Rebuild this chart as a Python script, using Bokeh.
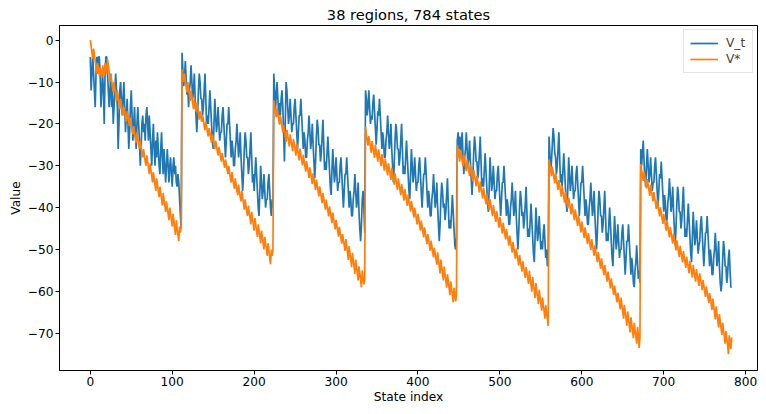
from bokeh.plotting import figure
from bokeh.models import Range1d, FixedTicker, Legend, LegendItem
from bokeh.embed import file_html
from bokeh.resources import INLINE

# ---------------- data ----------------
title_text = "38 regions, 784 states"
x_label_text = "State index"
y_label_text = "Value"
x_ticks = [0, 100, 200, 300, 400, 500, 600, 700, 800]
y_ticks = [-70, -60, -50, -40, -30, -20, -10, 0]

v_t_seg1 = [-4, -12, -8, -4, -8, -12, -16, -8, -4, -8, -4, -4, -8, -16, -12, -8,
            -12, -20, -8, -4, -4, -8, -12, -16, -12, -8, -16, -12, -20, -16, -12, -8,
            -12, -16, -26, -20, -12, -10, -14, -18, -14, -10, -16, -22, -18, -14, -20, -26,
            -22, -16, -12, -18, -24, -20, -16, -22, -26, -20, -16, -20, -24, -30, -26, -20,
            -18, -22, -20, -24, -18, -16, -20, -24, -18, -22, -26, -30, -24, -20, -26, -30,
            -24, -28, -22, -26, -30, -32, -26, -22, -28, -32, -26, -30, -34, -30, -26, -30,
            -34, -30, -28, -32, -35, -30, -28, -32, -30, -34, -35, -32, -34, -38, -42, -45]
v_t_seg2 = [-3, -7, -11, -9, -5, -9, -13, -11, -16, -12, -10, -6, -10, -14, -12, -8,
            -14, -18, -22, -18, -12, -8, -10, -14, -14, -18, -16, -12, -8, -14, -20, -18,
            -20, -16, -12, -16, -20, -24, -26, -20, -14, -18, -22, -20, -16, -20, -24, -22,
            -22, -18, -16, -20, -24, -28, -24, -20, -20, -16, -20, -24, -28, -24, -26, -30,
            -30, -26, -24, -20, -24, -28, -26, -22, -28, -32, -36, -32, -26, -22, -24, -28,
            -28, -32, -30, -26, -22, -28, -34, -32, -36, -32, -28, -32, -36, -40, -42, -36,
            -30, -34, -38, -36, -32, -36, -40, -38, -38, -34, -32, -36, -40, -42, -38, -40]
v_t_seg3 = [-8, -12, -17, -13, -10, -14, -18, -15, -18, -14, -12, -16, -22, -29, -20, -10,
            -12, -16, -20, -18, -14, -18, -22, -20, -20, -16, -14, -18, -22, -26, -22, -18,
            -18, -14, -18, -22, -26, -22, -24, -28, -28, -24, -22, -18, -22, -26, -24, -20,
            -25, -29, -33, -29, -23, -19, -21, -25, -25, -29, -27, -23, -19, -25, -31, -29,
            -31, -27, -23, -27, -31, -35, -37, -31, -26, -30, -34, -32, -28, -32, -36, -34,
            -34, -30, -28, -32, -36, -40, -36, -32, -32, -28, -32, -36, -40, -36, -38, -42,
            -42, -38, -36, -32, -36, -40, -38, -34, -41, -45, -48, -44, -38, -36, -40, -46]
v_t_seg4 = [-12, -14, -18, -16, -12, -16, -20, -18, -19, -15, -13, -17, -21, -25, -21, -17,
            -18, -14, -18, -22, -26, -22, -24, -28, -28, -24, -22, -18, -22, -26, -24, -20,
            -26, -30, -34, -30, -24, -20, -22, -26, -26, -30, -28, -24, -20, -26, -32, -30,
            -32, -28, -24, -28, -32, -36, -38, -32, -26, -30, -34, -32, -28, -32, -36, -34,
            -34, -30, -28, -32, -36, -40, -36, -32, -32, -28, -32, -36, -40, -36, -38, -42,
            -42, -38, -36, -32, -36, -40, -38, -34, -40, -44, -48, -44, -38, -34, -36, -40,
            -39, -43, -41, -37, -33, -39, -45, -43, -45, -41, -37, -41, -45, -49, -50, -47]
v_t_seg5 = [-24, -22, -26, -23, -28, -24, -22, -28, -32, -28, -26, -22, -26, -30, -28, -24,
            -29, -33, -37, -33, -27, -23, -25, -29, -29, -33, -31, -27, -23, -29, -35, -33,
            -35, -31, -27, -31, -35, -39, -41, -35, -28, -32, -36, -34, -30, -34, -38, -36,
            -36, -32, -30, -34, -38, -42, -38, -34, -34, -30, -34, -38, -42, -38, -40, -44,
            -44, -40, -38, -34, -38, -42, -40, -36, -42, -46, -50, -46, -40, -36, -38, -42,
            -41, -45, -43, -39, -35, -41, -47, -45, -47, -43, -39, -43, -47, -51, -53, -47,
            -40, -44, -48, -46, -42, -46, -50, -48, -50, -46, -44, -48, -52, -50, -54, -53]
v_t_seg6 = [-23, -27, -31, -29, -25, -21, -23, -27, -28, -32, -30, -26, -22, -28, -34, -32,
            -35, -31, -27, -31, -35, -39, -41, -35, -28, -32, -36, -34, -30, -34, -38, -36,
            -36, -32, -30, -34, -38, -42, -38, -34, -34, -30, -34, -38, -42, -38, -40, -44,
            -44, -40, -38, -34, -38, -42, -40, -36, -42, -46, -50, -46, -40, -36, -38, -42,
            -42, -46, -44, -40, -36, -42, -48, -46, -48, -44, -40, -44, -48, -52, -54, -48,
            -42, -46, -50, -48, -44, -48, -52, -50, -50, -46, -44, -48, -52, -56, -52, -48,
            -48, -44, -48, -52, -56, -52, -54, -58, -59, -55, -53, -49, -53, -57, -55, -58]
v_t_seg7 = [-26, -30, -27, -24, -29, -33, -35, -30, -26, -30, -34, -32, -28, -32, -36, -34,
            -34, -30, -28, -32, -36, -40, -36, -32, -33, -29, -33, -37, -41, -37, -39, -43,
            -43, -39, -37, -33, -37, -41, -39, -35, -41, -45, -49, -45, -39, -35, -37, -41,
            -41, -45, -43, -39, -35, -41, -47, -45, -47, -43, -39, -43, -47, -51, -53, -47,
            -41, -45, -49, -47, -43, -47, -51, -49, -48, -44, -42, -46, -50, -54, -50, -46,
            -46, -42, -46, -50, -54, -50, -52, -56, -56, -52, -50, -46, -50, -54, -52, -48,
            -54, -58, -60, -58, -52, -48, -50, -54, -54, -58, -56, -52, -50, -55, -59, -59]

v_star_seg1 = [0, -1.5, -3, -4.5, -2, -3.5, -5, -6.5, -8, -5.5, -7, -8.5,
               -6.5, -8, -9, -6, -7, -8.5, -5.5, -6.5, -8, -4.5, -6, -7.5,
               -10, -8, -9.5, -11, -12.5, -10, -11.5, -13, -14.5, -12, -13.5, -15,
               -16.5, -14, -15.5, -17, -18, -16, -17, -18.5, -19.5, -17, -18, -19.5,
               -20.5, -18.5, -20, -21.5, -22.5, -20.5, -22, -23.5, -24.5, -22, -23.5, -25,
               -26, -24, -25.5, -27, -28, -26, -27.5, -29, -30, -27.5, -29, -30.5,
               -32, -29.5, -31, -32.5, -34, -31.5, -33, -34.5, -36, -33, -34.5, -36,
               -37.5, -35, -36.5, -38, -39.5, -36.5, -38, -39.5, -41, -38.5, -40, -41.5,
               -43, -40, -41.5, -43, -44.5, -41.5, -43, -45, -46.5, -43, -45, -46.5,
               -48, -44.5, -46, -44.5]
v_star_seg2 = [-7, -8.5, -10, -8, -9.5, -11, -12.5, -10, -11.5, -13, -14.5, -12,
               -13.5, -15, -16.5, -14, -15.5, -17, -15, -16, -17.5, -19, -17, -18,
               -19.5, -18, -19, -20.5, -21.5, -19.5, -20.5, -22, -23, -21, -22, -23.5,
               -24.5, -22.5, -23.5, -25, -26, -24, -25, -26.5, -27.5, -25.5, -26.5, -28,
               -29, -27, -28, -29.5, -30.5, -28.5, -29.5, -31, -32, -30, -31.5, -33,
               -34, -31.5, -33, -34.5, -35.5, -33, -34.5, -36, -37, -34.5, -36, -37.5,
               -38.5, -36, -37.5, -39, -40.5, -38, -39.5, -41, -42, -39.5, -41, -42.5,
               -44, -41, -42.5, -44, -45.5, -42.5, -44, -45.5, -47, -44, -45.5, -47,
               -48.5, -45.5, -47, -48.5, -50, -47, -48.5, -50, -51.5, -48.5, -50, -52,
               -53.5, -50, -51.5, -50]
v_star_seg3 = [-14.4, -15.7, -17.1, -18.4, -16.2, -17.5, -18.9, -20.2, -18, -19.3, -20.7, -22,
               -20.3, -21.6, -23, -24.3, -21.4, -22.7, -24.1, -25.4, -22.5, -23.8, -25.2, -26.5,
               -23.6, -24.9, -26.3, -27.6, -24.7, -26, -27.4, -28.7, -25.9, -27.2, -28.6, -29.9,
               -27.4, -28.7, -30.1, -31.4, -28.9, -30.2, -31.6, -32.9, -30.4, -31.7, -33.1, -34.4,
               -31.8, -33.1, -34.5, -35.8, -33.3, -34.6, -36, -37.3, -34.9, -36.2, -37.6, -38.9,
               -36.5, -37.8, -39.2, -40.5, -38.1, -39.4, -40.8, -42.1, -39.7, -41, -42.4, -43.7,
               -41.2, -42.5, -43.9, -45.2, -42.9, -44.2, -45.6, -46.9, -44.6, -45.9, -47.3, -48.6,
               -46.3, -47.6, -49, -50.3, -47.5, -49.2, -50.8, -52.5, -49.2, -50.9, -52.5, -54.2,
               -50.8, -52.5, -54.1, -55.8, -52.4, -54.1, -55.7, -57.4, -54, -55.7, -57.3, -59,
               -55, -56.7, -58.3, -57]
v_star_seg4 = [-20.7, -22.5, -23.9, -25.2, -22.9, -24.2, -25.6, -26.9, -24.1, -25.4, -26.8, -28.1,
               -25, -26.3, -27.7, -29, -26.1, -27.4, -28.8, -30.1, -27.2, -28.5, -29.9, -31.2,
               -28.3, -29.6, -31, -32.3, -29.4, -30.7, -32.1, -33.4, -30.5, -31.8, -33.2, -34.5,
               -31.8, -33.1, -34.5, -35.8, -33, -34.3, -35.7, -37, -34.3, -35.6, -37, -38.3,
               -35.6, -36.9, -38.3, -39.6, -36.9, -38.2, -39.6, -40.9, -38.4, -39.7, -41.1, -42.4,
               -40, -41.3, -42.7, -44, -41.5, -42.8, -44.2, -45.5, -43.1, -44.4, -45.8, -47.1,
               -44.7, -46, -47.4, -48.7, -46.3, -47.6, -49, -50.3, -47.9, -49.2, -50.6, -51.9,
               -49.6, -50.9, -52.3, -53.6, -50.7, -52.4, -54, -55.7, -52.4, -54.1, -55.7, -57.4,
               -54.1, -55.8, -57.4, -59.1, -55.9, -57.6, -59.2, -60.9, -57.6, -59.3, -60.9, -62.6,
               -59.1, -60.8, -62.4, -61]
v_star_seg5 = [-25, -26.3, -27.7, -29, -26.2, -27.5, -28.9, -30.2, -27.3, -28.6, -30, -31.3,
               -28.5, -29.8, -31.2, -32.5, -29.7, -31, -32.4, -33.7, -30.9, -32.2, -33.6, -34.9,
               -32.4, -33.7, -35.1, -36.4, -33.8, -35.1, -36.5, -37.8, -35.2, -36.5, -37.9, -39.2,
               -36.6, -37.9, -39.3, -40.6, -38, -39.3, -40.7, -42, -39.4, -40.7, -42.1, -43.4,
               -40.8, -42.1, -43.5, -44.8, -42.2, -43.5, -44.9, -46.2, -43.6, -44.9, -46.3, -47.6,
               -45.1, -46.4, -47.8, -49.1, -46.7, -48, -49.4, -50.7, -48.2, -49.5, -50.9, -52.2,
               -49.8, -51.1, -52.5, -53.8, -51.3, -52.6, -54, -55.3, -52.8, -54.1, -55.5, -56.8,
               -54.2, -55.5, -56.9, -58.2, -55.1, -56.8, -58.4, -60.1, -56.6, -58.3, -59.9, -61.6,
               -58, -59.7, -61.3, -63, -59.6, -61.3, -62.9, -64.6, -61.5, -63.2, -64.8, -66.5,
               -63.3, -65, -66.6, -68.3]
v_star_seg6 = [-28.5, -29.8, -31.2, -32.5, -30.2, -31.5, -32.9, -34.2, -31.8, -33.1, -34.5, -35.8,
               -33.4, -34.7, -36.1, -37.4, -34.8, -36.1, -37.5, -38.8, -36.2, -37.5, -38.9, -40.2,
               -37.6, -38.9, -40.3, -41.6, -39, -40.3, -41.7, -43, -40.4, -41.7, -43.1, -44.4,
               -41.9, -43.2, -44.6, -45.9, -43.3, -44.6, -46, -47.3, -44.7, -46, -47.4, -48.7,
               -46.1, -47.4, -48.8, -50.1, -47.5, -48.8, -50.2, -51.5, -49, -50.3, -51.7, -53,
               -50.6, -51.9, -53.3, -54.6, -52.1, -53.4, -54.8, -56.1, -53.7, -55, -56.4, -57.7,
               -55.3, -56.6, -58, -59.3, -56.9, -58.2, -59.6, -60.9, -58.6, -59.9, -61.3, -62.6,
               -60.3, -61.6, -63, -64.3, -61.5, -63.2, -64.8, -66.5, -63.2, -64.9, -66.5, -68.2,
               -64.8, -66.5, -68.1, -69.8, -66.2, -67.9, -69.5, -71.2, -67.5, -69.2, -70.8, -72.5,
               -68.5, -70.2, -73.5, -71]
v_star_seg7 = [-29.6, -30.9, -32.3, -33.6, -31.4, -32.7, -34.1, -35.4, -33.2, -34.5, -35.9, -37.2,
               -34.5, -35.8, -37.2, -38.5, -36.3, -37.6, -39, -40.3, -38.1, -39.4, -40.8, -42.1,
               -39.9, -41.2, -42.6, -43.9, -41.5, -42.8, -44.2, -45.5, -43.1, -44.4, -45.8, -47.1,
               -44.6, -45.9, -47.3, -48.6, -46.2, -47.5, -48.9, -50.2, -47.8, -49.1, -50.5, -51.8,
               -49.1, -50.4, -51.8, -53.1, -50.4, -51.7, -53.1, -54.4, -51.7, -53, -54.4, -55.7,
               -52.7, -54, -55.4, -56.7, -53.7, -55, -56.4, -57.7, -54.7, -56, -57.4, -58.7,
               -55.7, -57, -58.4, -59.7, -57.3, -58.6, -60, -61.3, -58.8, -60.1, -61.5, -62.8,
               -60.4, -61.7, -63.1, -64.4, -61.7, -63.4, -65, -66.7, -63.6, -65.3, -66.9, -68.6,
               -65.4, -67.1, -68.7, -70.4, -67.5, -69.2, -70.8, -72.5, -69.5, -71.2, -72.8, -75,
               -70.5, -72.2, -73.8, -71]

v_t = v_t_seg1 + v_t_seg2 + v_t_seg3 + v_t_seg4 + v_t_seg5 + v_t_seg6 + v_t_seg7
v_star = (v_star_seg1 + v_star_seg2 + v_star_seg3 + v_star_seg4 + v_star_seg5
          + v_star_seg6 + v_star_seg7)
states = list(range(len(v_t)))

# ---------------- figure ----------------
FONT = "DejaVu Sans"
TICK_SIZE = "12.2px"
p = figure(width=758, height=406, output_backend="svg", toolbar_location=None,
           x_range=Range1d(-37.6, 814.5), y_range=Range1d(-78.9, 3.5),
           title=title_text, min_border_left=59, min_border_right=1,
           min_border_top=2, min_border_bottom=0)

p.title.align = "center"
p.title.text_font = FONT
p.title.text_font_size = "14.6px"
p.title.text_font_style = "normal"
p.title.text_color = "black"
p.title.standoff = 6

r1 = p.line(states, v_t, line_color="#1f77b4", line_width=1.7)
r2 = p.line(states, v_star, line_color="#ff7f0e", line_width=1.7)

p.xgrid.visible = False
p.ygrid.visible = False
p.outline_line_color = "black"
p.outline_line_width = 1
p.background_fill_color = "white"
p.border_fill_color = "white"

p.xaxis.ticker = FixedTicker(ticks=x_ticks)
p.yaxis.ticker = FixedTicker(ticks=y_ticks)
p.yaxis.major_label_overrides = {t: (str(t).replace("-", "\u2212")) for t in y_ticks}
p.xaxis.axis_label = x_label_text
p.yaxis.axis_label = y_label_text
for ax in (p.xaxis[0], p.yaxis[0]):
    ax.axis_line_color = "black"
    ax.major_tick_line_color = "black"
    ax.major_tick_out = 4
    ax.major_tick_in = 0
    ax.minor_tick_line_color = None
    ax.major_label_text_font = FONT
    ax.major_label_text_font_size = TICK_SIZE
    ax.major_label_text_color = "black"
    ax.axis_label_text_font = FONT
    ax.axis_label_text_font_size = TICK_SIZE
    ax.axis_label_text_font_style = "normal"
    ax.axis_label_text_color = "black"
    ax.major_label_standoff = 2
    ax.axis_label_standoff = 2
p.xaxis.axis_label_standoff = 1

legend = Legend(items=[LegendItem(label="V_t", renderers=[r1]),
                       LegendItem(label="V*", renderers=[r2])],
                location="top_right")
legend.label_text_font = FONT
legend.label_text_font_size = TICK_SIZE
legend.glyph_width = 28
legend.glyph_height = 14
legend.label_height = 14
legend.label_standoff = 8
legend.spacing = 2
legend.padding = 6
legend.margin = 4
legend.border_line_color = "#cccccc"
legend.border_line_width = 1
legend.background_fill_alpha = 0.8
p.add_layout(legend)

open("out.html", "w").write(file_html(p, INLINE))
